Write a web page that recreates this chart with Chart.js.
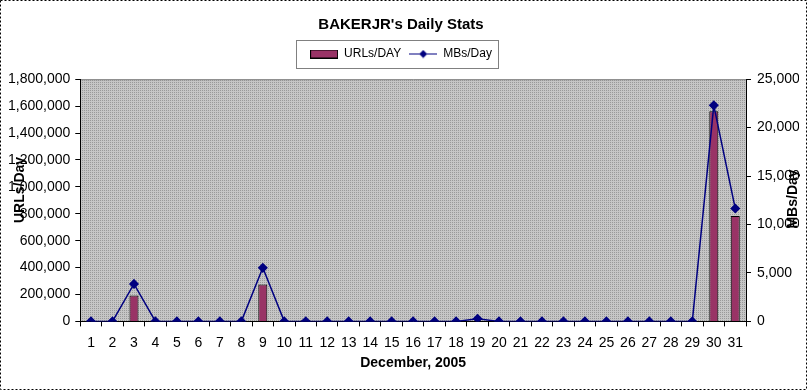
<!DOCTYPE html>
<html>
<head>
<meta charset="utf-8">
<script src="https://cdn.jsdelivr.net/npm/chart.js@4/dist/chart.umd.min.js"></script>
<style>
  html, body { margin: 0; padding: 0; background: #fff; }
  #wrap { width: 807px; height: 390px; }
</style>
</head>
<body>
<div id="wrap"><canvas id="chartStats"></canvas></div>
<script>
// ─── DATOS ────────────────────────────────────────────
const dias = Array.from({ length: 31 }, (_, i) => String(i + 1));
const urlsPorDia = [
  0, 0, 192000, 0, 0, 0, 0, 0, 274000, 0,
  12000, 0, 0, 0, 0, 0, 0, 0, 5000, 0,
  0, 0, 0, 0, 0, 0, 0, 0, 0, 1561000, 784000,
];
const mbsPorDia = [
  0, 0, 3870, 0, 0, 0, 0, 0, 5530, 0,
  0, 0, 0, 0, 0, 0, 0, 0, 280, 0,
  0, 0, 0, 0, 0, 0, 0, 0, 0, 22300, 11650,
];

const FONT   = "'Liberation Sans', Arial, sans-serif";
const MAROON = '#993366';
const NAVY   = '#000080';

// patrón gris punteado del área de trazado
function mkPatron(ctx) {
  const c = document.createElement('canvas');
  c.width = 2; c.height = 2;
  const g = c.getContext('2d');
  g.fillStyle = '#c6c6c6'; g.fillRect(0, 0, 2, 2);
  g.fillStyle = '#999999'; g.fillRect(0, 0, 1, 1);
  return ctx.createPattern(c, 'repeat');
}

// iconos de leyenda
function iconoBarra() {
  const c = document.createElement('canvas');
  c.width = 28; c.height = 9;
  const g = c.getContext('2d');
  g.fillStyle = MAROON; g.fillRect(0.5, 0.5, 27, 8);
  g.strokeStyle = '#000'; g.lineWidth = 1; g.strokeRect(0.5, 0.5, 27, 8);
  return c;
}
function iconoLinea() {
  const c = document.createElement('canvas');
  c.width = 28; c.height = 9;
  const g = c.getContext('2d');
  g.strokeStyle = NAVY; g.lineWidth = 1;
  g.beginPath(); g.moveTo(0, 4.5); g.lineTo(28, 4.5); g.stroke();
  g.fillStyle = NAVY;
  g.beginPath(); g.moveTo(14, 0.5); g.lineTo(18, 4.5); g.lineTo(14, 8.5); g.lineTo(10, 4.5); g.closePath(); g.fill();
  return c;
}

const fondoPlugin = {
  id: 'fondo',
  beforeDraw(chart) {
    const { ctx, chartArea: a } = chart;
    ctx.save();
    ctx.fillStyle = '#fff';
    ctx.fillRect(0, 0, chart.width, chart.height);
    ctx.fillStyle = mkPatron(ctx);
    ctx.fillRect(a.left, a.top, a.right - a.left, a.bottom - a.top);
    ctx.strokeStyle = '#808080';
    ctx.lineWidth = 1;
    ctx.beginPath();
    ctx.moveTo(a.left, a.top + 0.5); ctx.lineTo(a.right + 0.5, a.top + 0.5);
    ctx.lineTo(a.right + 0.5, a.bottom);
    ctx.stroke();
    ctx.restore();
  },
  afterDraw(chart) {
    const { ctx } = chart;
    ctx.save();
    // borde punteado exterior
    ctx.strokeStyle = '#000';
    ctx.lineWidth = 1;
    ctx.setLineDash([2, 2]);
    ctx.strokeRect(0.5, 0.5, chart.width - 1, chart.height - 1);
    ctx.setLineDash([]);
    // caja de la leyenda
    const hb = chart.legend.legendHitBoxes;
    if (hb && hb.length) {
      const x0 = Math.min(...hb.map(h => h.left)) - 14;
      const x1 = Math.max(...hb.map(h => h.left + h.width)) + 6;
      const y0 = Math.min(...hb.map(h => h.top)) - 8;
      const y1 = Math.max(...hb.map(h => h.top + h.height)) + 8;
      ctx.strokeStyle = '#808080';
      ctx.strokeRect(Math.round(x0) + 0.5, Math.round(y0) + 0.5, Math.round(x1 - x0), Math.round(y1 - y0));
    }
    // títulos de ejes Y (ambos rotados hacia arriba)
    ctx.fillStyle = '#000';
    ctx.font = 'bold 14px ' + FONT;
    ctx.textAlign = 'center';
    ctx.textBaseline = 'middle';
    [['URLs/Day', 20, 190], ['MBs/Day', 793, 199]].forEach(([t, x, y]) => {
      ctx.save();
      ctx.translate(x, y);
      ctx.rotate(-Math.PI / 2);
      ctx.fillText(t, 0, 0);
      ctx.restore();
    });
    ctx.restore();
  },
};

const ejeComun = {
  border: { display: true, color: '#000', width: 1 },
  ticks: { color: '#000', font: { family: FONT, size: 14 } },
};

new Chart(document.getElementById('chartStats'), {
  data: {
    labels: dias,
    datasets: [
      {
        type: 'line',
        label: 'MBs/Day',
        data: mbsPorDia,
        yAxisID: 'y1',
        borderColor: NAVY,
        backgroundColor: NAVY,
        borderWidth: 1.5,
        tension: 0,
        pointStyle: 'rectRot',
        pointRadius: 4,
        pointBackgroundColor: NAVY,
        pointBorderColor: NAVY,
        order: 0,
      },
      {
        type: 'bar',
        label: 'URLs/DAY',
        data: urlsPorDia,
        yAxisID: 'y',
        backgroundColor: MAROON,
        borderColor: '#000',
        borderWidth: 1,
        barPercentage: 0.42,
        categoryPercentage: 1,
        order: 1,
      },
    ],
  },
  options: {
    responsive: true,
    maintainAspectRatio: false,
    animation: false,
    layout: { padding: { top: 12, left: 3, right: 8, bottom: 18 } },
    plugins: {
      title: {
        display: true,
        text: "BAKERJR's Daily Stats",
        color: '#000',
        font: { family: FONT, size: 15, weight: 'bold' },
        padding: { top: 4, bottom: 6 },
      },
      // espaciador bajo la leyenda
      subtitle: {
        display: true,
        text: ' ',
        weight: 500,
        font: { size: 1 },
        padding: { top: 0, bottom: 8 },
      },
      legend: {
        display: true,
        position: 'top',
        labels: {
          color: '#000',
          font: { family: FONT, size: 12 },
          usePointStyle: true,
          pointStyleWidth: 28,
          boxHeight: 9,
          padding: 8,
          generateLabels(chart) {
            return [
              { text: 'URLs/DAY', pointStyle: iconoBarra(), datasetIndex: 1, fontColor: '#000', lineWidth: 0 },
              { text: 'MBs/Day',  pointStyle: iconoLinea(), datasetIndex: 0, fontColor: '#000', lineWidth: 0 },
            ];
          },
        },
      },
      tooltip: { enabled: false },
    },
    scales: {
      x: {
        ...ejeComun,
        grid: { display: true, offset: true, drawOnChartArea: false, drawTicks: true, tickLength: 5, color: '#000' },
        ticks: { ...ejeComun.ticks, maxRotation: 0, autoSkip: false, padding: 8 },
        title: {
          display: true,
          text: 'December, 2005',
          color: '#000',
          font: { family: FONT, size: 14, weight: 'bold' },
          padding: { top: -4, bottom: 0 },
        },
      },
      y: {
        ...ejeComun,
        position: 'left',
        min: 0,
        max: 1800000,
        grid: { display: true, drawOnChartArea: false, drawTicks: true, tickLength: 5, color: '#000' },
        ticks: { ...ejeComun.ticks, stepSize: 200000, padding: 5, callback: v => v.toLocaleString('en-US') },
      },
      y1: {
        ...ejeComun,
        position: 'right',
        min: 0,
        max: 25000,
        grid: { display: true, drawOnChartArea: false, drawTicks: true, tickLength: 5, color: '#000' },
        ticks: { ...ejeComun.ticks, stepSize: 5000, padding: 6, callback: v => v.toLocaleString('en-US') },
        afterFit(scale) { scale.width = 53; },
      },
    },
  },
  plugins: [fondoPlugin],
});
</script>
</body>
</html>
